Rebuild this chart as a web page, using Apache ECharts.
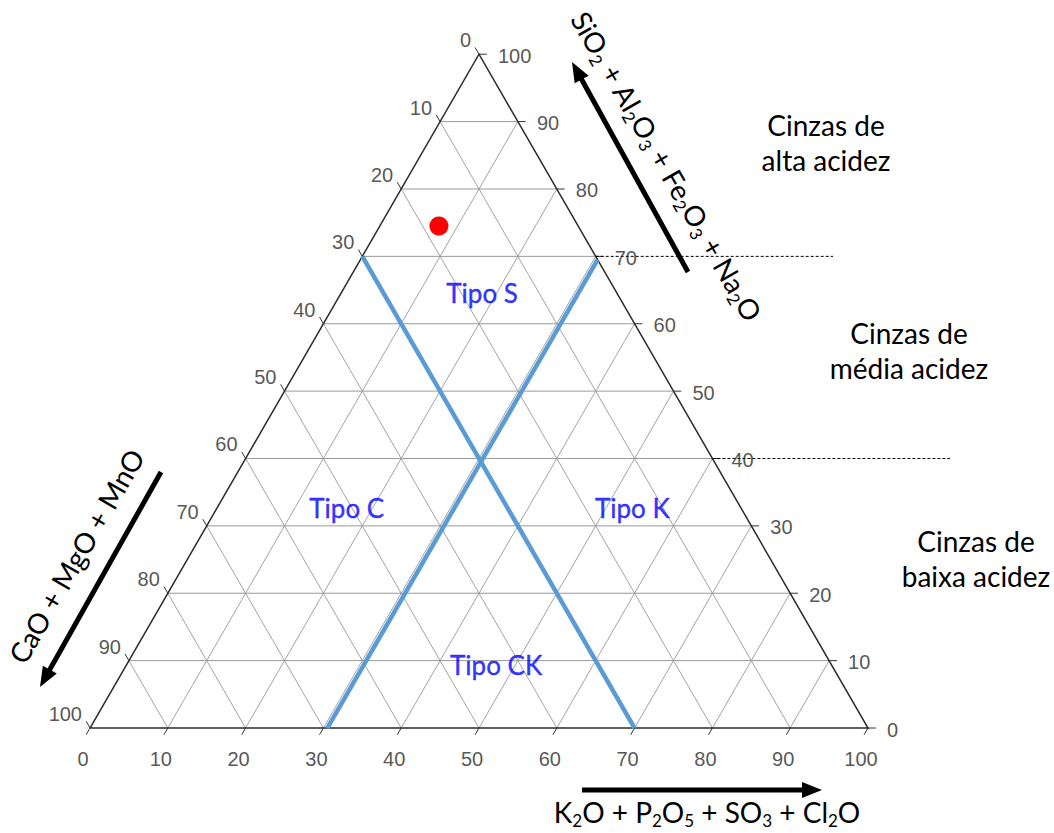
<!DOCTYPE html>
<html>
<head>
<meta charset="utf-8">
<script src="https://cdn.jsdelivr.net/npm/echarts@6/dist/echarts.min.js"></script>
<style>
  html, body { margin: 0; padding: 0; background: #fff; }
  #chart { width: 1054px; height: 833px; }
</style>
</head>
<body>
<div id="chart"></div>
<script>
// Ternary classification of ash composition (wt %):
//   Si group  = SiO2 + Al2O3 + Fe2O3 + Na2O   (right axis, apex = 100)
//   K group   = K2O + P2O5 + SO3 + Cl2O       (bottom axis)
//   Ca group  = CaO + MgO + MnO               (left axis)

const tickValues = [0, 10, 20, 30, 40, 50, 60, 70, 80, 90, 100];
const gridLevels = [10, 20, 30, 40, 50, 60, 70, 80, 90];

// Type boundaries
const boundaryK = 30.5;   // constant K group line
const boundaryCa = 30;    // constant Ca group line

// Acidity class limits on the Si group axis
const acidityLimits = [70, 40];
const acidityNames = ['Cinzas de\nalta acidez', 'Cinzas de\nmédia acidez', 'Cinzas de\nbaixa acidez'];

// Sample composition
const sampleSi = [74.5];
const sampleK = [7.6];

// Ash type regions and where their names sit (Si group, K group)
const typeNames = ['Tipo S', 'Tipo C', 'Tipo K', 'Tipo CK'];
const typeSi = [64.6, 32.6, 32.6, 9.4];
const typeK = [18.1, 16.7, 53.4, 47.5];

// ---- layout ----
const W = 1054, H = 833;
const frame = { left: 90, base: 728, side: 778 };
const k = frame.side / 100;
const xMin = -frame.left / k, xMax = (W - frame.left) / k;
const yMin = -(H - frame.base) / k, yMax = frame.base / k;
const limitEndPx = [833, 950];
const TICK = 1.0;

const S3 = Math.sqrt(3) / 2;
// (Si, K) -> plane coordinates, triangle side = 100
function tern(si, kk) { return [kk + si / 2, si * S3]; }

const hLines = gridLevels.map(v => ({ coords: [tern(v, 0), tern(v, 100 - v)] }));
const slantLines = [];
gridLevels.forEach(v => {
  slantLines.push({ coords: [tern(0, v), tern(100 - v, v)] });        // constant K
  slantLines.push({ coords: [tern(100 - v, 0), tern(0, 100 - v)] });  // constant Ca
});
const ticks = [];
tickValues.forEach(v => {
  ticks.push({ coords: [tern(v, 100 - v), tern(v, 100 - v + TICK)] });
  ticks.push({ coords: [tern(0, v), tern(-TICK, v)] });
  ticks.push({ coords: [tern(100 - v, 0), tern(100 - v + TICK, -TICK)] });
});
const outline = [{ coords: [tern(0, 0), tern(0, 100), tern(100, 0), tern(0, 0)] }];
const boundaries = [
  { coords: [tern(0, boundaryK), tern(100 - boundaryK, boundaryK)] },
  { coords: [tern(100 - boundaryCa, 0), tern(0, 100 - boundaryCa)] }
];
const limits = acidityLimits.map((v, i) => ({
  coords: [tern(v, 100 - v), [(limitEndPx[i] - frame.left) / k, v * S3]]
}));

const tickFont = { fontFamily: 'Liberation Sans', fontSize: 20, color: '#2a2a2a' };
function tickLabelSeries(points, align, offset) {
  return {
    type: 'scatter', symbolSize: 0, silent: true, z: 6,
    data: points,
    label: Object.assign({ show: true, position: 'inside', formatter: '{b}',
      align: align, verticalAlign: 'middle', offset: offset }, tickFont)
  };
}

const lineSeries = (data, style, z) => ({
  type: 'lines', coordinateSystem: 'cartesian2d', polyline: true, silent: true,
  data: data, lineStyle: Object.assign({ opacity: 1, curveness: 0 }, style), z: z
});

const richText = {
  n: { fontFamily: 'Lato', fontSize: 28, lineHeight: 34, fill: '#000' },
  s: { fontFamily: 'Lato', fontSize: 17, lineHeight: 17, verticalAlign: 'bottom', fill: '#000' }
};
function titleText(x, y, rot, text) {
  return {
    type: 'text', x: x, y: y, rotation: rot, silent: true, z: 20,
    style: { text: text, rich: richText, align: 'center', verticalAlign: 'middle',
             font: '28px Lato', fill: '#000' }
  };
}
function arrow(x1, y1, x2, y2) {
  const dx = x2 - x1, dy = y2 - y1, len = Math.hypot(dx, dy);
  const ux = dx / len, uy = dy / len, hl = 20, hw = 8;
  const bx = x2 - ux * hl, by = y2 - uy * hl;
  return [
    { type: 'line', silent: true, z: 20,
      shape: { x1: x1, y1: y1, x2: bx + ux * 2, y2: by + uy * 2 },
      style: { stroke: '#000', lineWidth: 5 } },
    { type: 'polygon', silent: true, z: 20,
      shape: { points: [[x2, y2], [bx - uy * hw, by + ux * hw], [bx + uy * hw, by - ux * hw]] },
      style: { fill: '#000' } }
  ];
}

const chart = echarts.init(document.getElementById('chart'), null, { renderer: 'svg', width: W, height: H });

chart.setOption({
  animation: false,
  backgroundColor: '#fff',
  grid: { left: 0, right: 0, top: 0, bottom: 0 },
  xAxis: { type: 'value', min: xMin, max: xMax, show: false },
  yAxis: { type: 'value', min: yMin, max: yMax, show: false },
  series: [
    lineSeries(slantLines, { color: '#8c8c8c', width: 0.8 }, 1),
    lineSeries(hLines, { color: '#9a9a9a', width: 1 }, 1),
    lineSeries(ticks, { color: '#333', width: 1 }, 2),
    lineSeries(outline, { color: '#2b2b2b', width: 1.5 }, 3),
    lineSeries(limits, { color: '#000', width: 1, type: [3, 2] }, 3),
    lineSeries(boundaries, { color: '#5b9bd5', width: 4.5 }, 4),
    tickLabelSeries(tickValues.map(v => ({ name: String(v), value: tern(v, 100 - v) })), 'left', [19, 1.5]),
    tickLabelSeries(tickValues.map(v => ({ name: String(v), value: tern(0, v) })), 'center', [-7, 31]),
    tickLabelSeries(tickValues.map(v => ({ name: String(v), value: tern(100 - v, 0) })), 'right', [-8, -14]),
    {
      type: 'scatter', symbolSize: 0, silent: true, z: 6,
      data: typeNames.map((n, i) => ({ name: n, value: tern(typeSi[i], typeK[i]) })),
      label: { show: true, position: 'inside', formatter: '{b}', align: 'center', verticalAlign: 'middle',
               color: '#0000ff', fontFamily: 'Lato', fontSize: 26,
               textBorderColor: '#0000ff', textBorderWidth: 0.4 }
    },
    {
      type: 'scatter', symbol: 'circle', symbolSize: 19, silent: true, z: 7,
      itemStyle: { color: '#ff0000', opacity: 1 },
      data: sampleSi.map((s, i) => tern(s, sampleK[i]))
    }
  ],
  graphic: [].concat(
    arrow(688, 272, 572, 62),
    arrow(161, 472, 40, 687),
    arrow(582, 790, 822, 790),
    [
      titleText(667, 166, -Math.PI / 3,
        '{n|SiO}{s|2}{n| + Al}{s|2}{n|O}{s|3}{n| + Fe}{s|2}{n|O}{s|3}{n| + Na}{s|2}{n|O}'),
      titleText(76, 556, Math.PI / 3, '{n|CaO + MgO + MnO}'),
      titleText(707, 812, 0,
        '{n|K}{s|2}{n|O + P}{s|2}{n|O}{s|5}{n| + SO}{s|3}{n| + Cl}{s|2}{n|O}')
    ],
    [[826, 142], [909, 350], [976, 558]].map((p, i) => ({
      type: 'text', x: p[0], y: p[1], silent: true, z: 20,
      style: { text: acidityNames[i], font: '28px Lato', lineHeight: 35, fill: '#000',
               align: 'center', verticalAlign: 'middle' }
    }))
  )
});
</script>
</body>
</html>
